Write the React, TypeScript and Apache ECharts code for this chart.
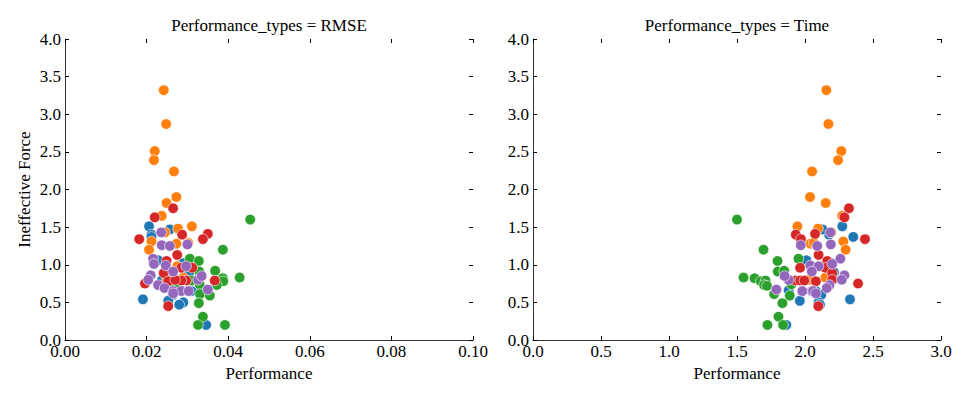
import React, { useEffect, useRef } from "react";
import * as echarts from "echarts";

// Ineffective Force (y) with paired Performance values (RMSE, Time) per hue group
const blueForce = [1.51, 1.40, 1.47, 1.37, 1.06, 1.02, 0.90, 0.79, 0.66, 0.65, 0.60, 0.54, 0.52, 0.50, 0.47, 0.20];
const blueRmse = [0.0206, 0.0212, 0.0257, 0.0212, 0.0228, 0.029, 0.0305, 0.0237, 0.033, 0.031, 0.0264, 0.0191, 0.0253, 0.029, 0.028, 0.0346];
const blueTime = [2.274, 2.177, 2.128, 2.355, 2.01, 2.2, 2.213, 2.06, 1.88, 2.08, 2.12, 2.331, 1.962, 2.1, 2.11, 1.863];

const orangeForce = [3.32, 2.87, 2.51, 2.39, 2.24, 1.90, 1.82, 1.65, 1.51, 1.48, 1.43, 1.31, 1.28, 1.29, 1.20, 0.98, 0.83, 0.80];
const orangeRmse = [0.0242, 0.0248, 0.022, 0.0218, 0.0267, 0.0273, 0.0249, 0.0237, 0.0311, 0.0277, 0.0245, 0.0212, 0.0273, 0.0302, 0.0206, 0.0275, 0.029, 0.025];
const orangeTime = [2.157, 2.172, 2.267, 2.243, 2.052, 2.037, 2.152, 2.274, 1.944, 2.096, 2.194, 2.282, 2.04, 2.065, 2.299, 2.12, 2.15, 2.03];

const greenForce = [1.60, 1.20, 1.08, 1.05, 0.91, 0.92, 0.83, 0.82, 0.78, 0.79, 0.73, 0.74, 0.61, 0.59, 0.49, 0.31, 0.20, 0.20, 0.72];
const greenRmse = [0.0454, 0.0387, 0.0306, 0.0328, 0.0329, 0.0368, 0.0428, 0.0387, 0.0388, 0.031, 0.0372, 0.033, 0.0331, 0.0355, 0.0328, 0.0338, 0.0326, 0.0392, 0.027];
const greenTime = [1.5, 1.695, 1.952, 1.798, 1.8, 1.847, 1.548, 1.629, 1.675, 1.71, 1.7, 1.9, 1.773, 1.888, 1.834, 1.805, 1.724, 1.839, 1.72];

const redForce = [1.75, 1.63, 1.34, 1.40, 1.41, 1.34, 1.13, 1.05, 0.96, 0.96, 0.89, 0.75, 0.79, 0.79, 0.79, 0.78, 0.80, 0.45];
const redRmse = [0.0265, 0.022, 0.0182, 0.0287, 0.035, 0.0338, 0.0275, 0.0249, 0.0312, 0.0285, 0.0242, 0.0196, 0.0367, 0.0297, 0.0285, 0.0253, 0.027, 0.0253];
const redTime = [2.323, 2.29, 2.441, 1.932, 2.074, 1.97, 2.1, 2.164, 1.964, 2.15, 2.2, 2.39, 1.93, 1.965, 1.995, 2.08, 2.2, 2.098];

const purpleForce = [1.43, 1.26, 1.25, 1.27, 1.08, 1.01, 0.99, 0.98, 0.91, 0.86, 0.80, 0.73, 0.69, 0.65, 0.65, 0.65, 0.80, 0.85, 0.67, 0.62];
const purpleRmse = [0.0236, 0.0237, 0.0257, 0.03, 0.0216, 0.0218, 0.0247, 0.0297, 0.0265, 0.021, 0.0204, 0.0228, 0.0244, 0.0265, 0.0285, 0.0303, 0.0326, 0.0335, 0.035, 0.0265];
const purpleTime = [2.186, 1.969, 2.09, 2.19, 2.26, 2.2, 2.04, 2.1, 2.05, 2.29, 2.27, 2.18, 2.16, 2.05, 1.98, 2.06, 1.88, 1.85, 1.79, 2.08];

const panelTitles = ["Performance_types = RMSE", "Performance_types = Time"];
const xAxisTitle = "Performance";
const yAxisTitle = "Ineffective Force";

const groups = [
  { color: "#1f77b4", force: blueForce, rmse: blueRmse, time: blueTime },
  { color: "#ff7f0e", force: orangeForce, rmse: orangeRmse, time: orangeTime },
  { color: "#2ca02c", force: greenForce, rmse: greenRmse, time: greenTime },
  { color: "#d62728", force: redForce, rmse: redRmse, time: redTime },
  { color: "#9467bd", force: purpleForce, rmse: purpleRmse, time: purpleTime },
];

const FONT = "'Liberation Serif', 'Times New Roman', serif";
const FS = 17;

export default function App() {
  const ref = useRef<HTMLDivElement>(null);

  useEffect(() => {
    if (!ref.current) return;
    const chart = echarts.init(ref.current, undefined, { renderer: "svg" });

    const gridLefts = [65, 533];
    const gridW = 408;
    const gridTop = 39;
    const gridH = 301;

    const mkTick = () => ({ show: true, inside: true, length: 4, lineStyle: { color: "#000", width: 1 } });
    const lbl = { color: "#000", fontFamily: FONT, fontSize: FS };

    const xRanges = [
      { max: 0.1, interval: 0.02, dec: 2 },
      { max: 3, interval: 0.5, dec: 1 },
    ];

    const xAxis: any[] = [];
    const yAxis: any[] = [];
    [0, 1].forEach((g) => {
      const r = xRanges[g];
      xAxis.push({
        type: "value",
        gridIndex: g,
        position: "bottom",
        min: 0,
        max: r.max,
        interval: r.interval,
        splitLine: { show: false },
        axisLine: { show: true, onZero: false, lineStyle: { color: "#333", width: 1 } },
        axisTick: mkTick(),
        axisLabel: { ...lbl, margin: 3, formatter: (v: number) => v.toFixed(r.dec) },
        name: xAxisTitle,
        nameLocation: "middle",
        nameGap: 24,
        nameTextStyle: { color: "#000", fontFamily: FONT, fontSize: FS },
      });
      xAxis.push({
        type: "value",
        gridIndex: g,
        position: "top",
        min: 0,
        max: r.max,
        interval: r.interval,
        splitLine: { show: false },
        axisLine: { show: false, onZero: false },
        axisTick: mkTick(),
        axisLabel: { show: false },
      });
      yAxis.push({
        type: "value",
        gridIndex: g,
        position: "left",
        min: 0,
        max: 4,
        interval: 0.5,
        splitLine: { show: false },
        axisLine: { show: true, onZero: false, lineStyle: { color: "#333", width: 1 } },
        axisTick: mkTick(),
        axisLabel: { ...lbl, margin: 4, formatter: (v: number) => v.toFixed(1) },
        name: g === 0 ? yAxisTitle : "",
        nameLocation: "middle",
        nameGap: 32,
        nameTextStyle: { color: "#000", fontFamily: FONT, fontSize: FS },
      });
      yAxis.push({
        type: "value",
        gridIndex: g,
        position: "right",
        min: 0,
        max: 4,
        interval: 0.5,
        splitLine: { show: false },
        axisLine: { show: false, onZero: false },
        axisTick: mkTick(),
        axisLabel: { show: false },
      });
    });

    const series: any[] = [];
    groups.forEach((grp) => {
      series.push({
        type: "scatter",
        xAxisIndex: 0,
        yAxisIndex: 0,
        symbol: "circle",
        symbolSize: 10.5,
        itemStyle: { color: grp.color, opacity: 1, borderColor: "#fff", borderWidth: 0.6 },
        data: grp.rmse.map((x, i) => [x, grp.force[i]]),
      });
      series.push({
        type: "scatter",
        xAxisIndex: 2,
        yAxisIndex: 2,
        symbol: "circle",
        symbolSize: 10.5,
        itemStyle: { color: grp.color, opacity: 1, borderColor: "#fff", borderWidth: 0.6 },
        data: grp.time.map((x, i) => [x, grp.force[i]]),
      });
    });

    chart.setOption({
      animation: false,
      backgroundColor: "#fff",
      grid: gridLefts.map((l) => ({ left: l, top: gridTop, width: gridW, height: gridH, containLabel: false })),
      xAxis,
      yAxis,
      series,
      graphic: panelTitles.map((t, i) => ({
        type: "text",
        x: gridLefts[i] + gridW / 2,
        y: 25,
        style: {
          text: t,
          fill: "#000",
          font: `${FS}px ${FONT}`,
          textAlign: "center",
          textVerticalAlign: "middle",
        },
      })),
    });

    return () => chart.dispose();
  }, []);

  return (
    <div
      ref={ref}
      style={{ position: "fixed", left: 0, top: 0, width: 960, height: 400, background: "#fff" }}
    />
  );
}
